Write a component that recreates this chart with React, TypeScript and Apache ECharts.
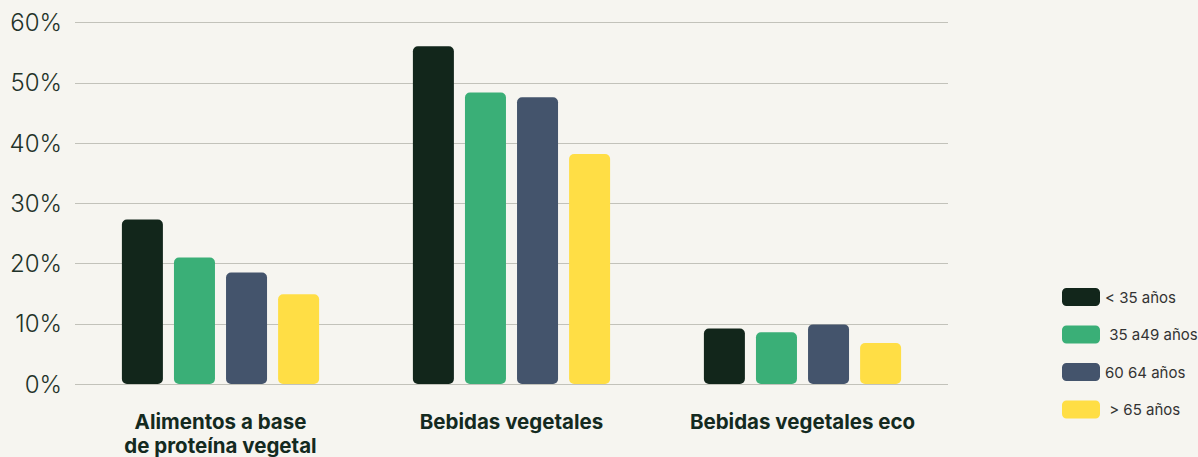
import React, { useEffect, useRef } from "react";
import * as echarts from "echarts";

const categories = ["Alimentos a base\nde proteína vegetal", "Bebidas vegetales", "Bebidas vegetales eco"];
const seriesNames = ["< 35 años", " 35 a49 años", "60 64 años", " > 65 años"];
const under35 = [27.3, 56.1, 9.2];
const from35to49 = [21.0, 48.4, 8.6];
const from60to64 = [18.5, 47.6, 9.9];
const over65 = [14.9, 38.2, 6.8];
const colors = ["#12261b", "#3aaf77", "#44546c", "#ffde45"];
const yTicks = { min: 0, max: 60, interval: 10 };

export default function App() {
  const ref = useRef<HTMLDivElement>(null);
  useEffect(() => {
    if (!ref.current) return;
    const chart = echarts.init(ref.current, undefined, { renderer: "svg" });
    const data = [under35, from35to49, from60to64, over65];
    chart.setOption({
      animation: false,
      backgroundColor: "#f6f5f0",
      grid: { left: 75, right: 250, top: 22.7, bottom: 457 - 384.3 },
      legend: {
        orient: "vertical",
        left: 1057,
        top: 283,
        itemWidth: 38,
        itemHeight: 18,
        itemGap: 19.5,
        icon: "roundRect",
        textStyle: { fontFamily: "Inter", fontSize: 15, color: "#333" },
        data: seriesNames,
      },
      xAxis: {
        type: "category",
        data: categories,
        axisLine: { show: false },
        axisTick: { show: false },
        axisLabel: {
          margin: 25,
          fontFamily: "Inter",
          fontWeight: "bold",
          fontSize: 20.5,
          lineHeight: 24,
          color: "#142a1f",
          interval: 0,
        },
      },
      yAxis: {
        type: "value",
        min: yTicks.min,
        max: yTicks.max,
        interval: yTicks.interval,
        axisLine: { show: false },
        axisTick: { show: false },
        axisLabel: {
          formatter: "{value}%",
          margin: 13,
          fontFamily: "Inter",
          fontWeight: 300,
          fontSize: 24,
          color: "#1f3329",
        },
        splitLine: { lineStyle: { color: "#c2c2ba", width: 1.2 } },
      },
      series: seriesNames.map((name, i) => ({
        name,
        type: "bar",
        data: data[i],
        barWidth: 41,
        barGap: "27%",
        itemStyle: { color: colors[i], borderRadius: 5 },
      })),
    });
    return () => chart.dispose();
  }, []);
  return <div ref={ref} style={{ width: 1198, height: 457, position: "absolute", left: 0, top: 0 }} />;
}
